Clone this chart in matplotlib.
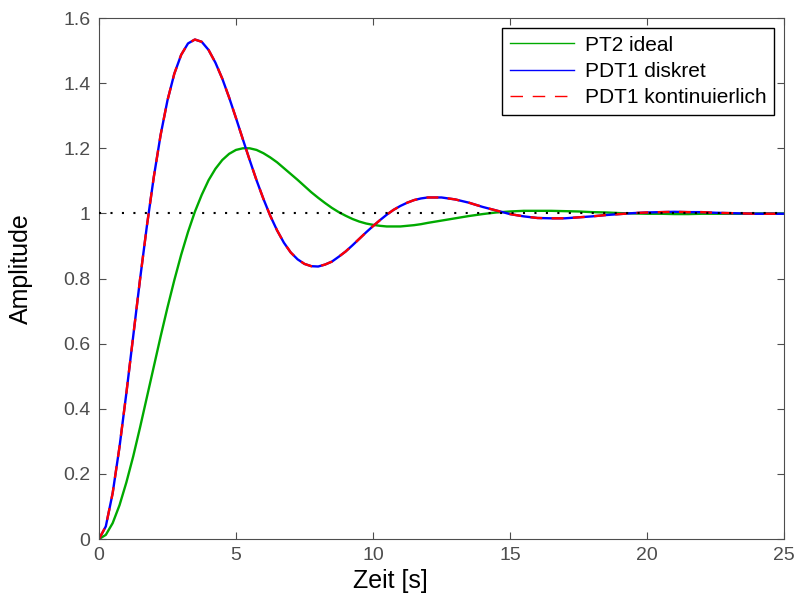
import matplotlib
matplotlib.use("Agg")
import matplotlib.pyplot as plt

plt.rcParams['font.family'] = ['Liberation Sans', 'DejaVu Sans']

# time base [s]: fine steps during the transient, coarser in the tail
t = [0.0, 0.25, 0.5, 0.75, 1.0, 1.25, 1.5, 1.75, 2.0, 2.25, 2.5, 2.75,
     3.0, 3.25, 3.5, 3.75, 4.0, 4.25, 4.5, 4.75, 5.0, 5.25, 5.5, 5.75,
     6.0, 6.25, 6.5, 6.75, 7.0, 7.25, 7.5, 7.75, 8.0, 8.25, 8.5, 8.75,
     9.0, 9.25, 9.5, 9.75, 10.0, 10.25, 10.5, 10.75, 11.0, 11.25, 11.5, 11.75,
     12.0, 12.5, 13.0, 13.5, 14.0, 14.5, 15.0, 15.5, 16.0, 16.5, 17.0, 17.5,
     18.0, 18.5, 19.0, 19.5, 20.0, 20.5, 21.0, 21.5, 22.0, 22.5, 23.0, 23.5,
     24.0, 24.5, 25.0]

# step response of the ideal PT2 element
pt2_ideal = [0.000, 0.013, 0.049, 0.104, 0.174, 0.254, 0.343, 0.436, 0.529, 0.622, 0.711, 0.795,
             0.873, 0.943, 1.005, 1.057, 1.102, 1.137, 1.164, 1.183, 1.195, 1.200, 1.200, 1.195,
             1.185, 1.172, 1.157, 1.139, 1.121, 1.103, 1.084, 1.065, 1.048, 1.032, 1.017, 1.004,
             0.993, 0.983, 0.975, 0.969, 0.965, 0.962, 0.960, 0.960, 0.960, 0.962, 0.964, 0.967,
             0.971, 0.978, 0.985, 0.992, 0.998, 1.003, 1.006, 1.008, 1.008, 1.008, 1.007, 1.006,
             1.004, 1.003, 1.001, 1.000, 0.999, 0.999, 0.998, 0.998, 0.999, 0.999, 0.999, 0.999,
             1.000, 1.000, 1.000]

# step response with the PDT1 approximation (discrete and continuous coincide)
pdt1_diskret = [0.000, 0.039, 0.141, 0.283, 0.448, 0.623, 0.798, 0.962, 1.111, 1.241, 1.347, 1.429,
                1.487, 1.522, 1.534, 1.527, 1.502, 1.463, 1.414, 1.356, 1.293, 1.228, 1.164, 1.102,
                1.045, 0.993, 0.948, 0.910, 0.880, 0.859, 0.845, 0.838, 0.837, 0.843, 0.852, 0.867,
                0.883, 0.902, 0.922, 0.942, 0.961, 0.979, 0.996, 1.011, 1.023, 1.033, 1.041, 1.046,
                1.049, 1.049, 1.043, 1.033, 1.020, 1.009, 0.998, 0.991, 0.986, 0.985, 0.985, 0.988,
                0.991, 0.995, 0.998, 1.001, 1.003, 1.004, 1.005, 1.004, 1.004, 1.002, 1.001, 1.000,
                0.999, 0.999, 0.999]
pdt1_kontinuierlich = list(pdt1_diskret)

sollwert = 1.0
x_ticks = [0, 5, 10, 15, 20, 25]
y_ticks = [0, 0.2, 0.4, 0.6, 0.8, 1.0, 1.2, 1.4, 1.6]
y_tick_labels = ['0', '0.2', '0.4', '0.6', '0.8', '1', '1.2', '1.4', '1.6']

axis_gray = '#4d4d4d'

fig = plt.figure(figsize=(7.98, 6.01), dpi=100)
ax = fig.add_axes([0.124, 0.103, 0.8585, 0.867])

ax.plot(t, pt2_ideal, color='#00aa00', linewidth=1.7, label='PT2 ideal')
ax.plot(t, pdt1_diskret, color='#0000ff', linewidth=1.7, label='PDT1 diskret')
ax.plot(t, pdt1_kontinuierlich, color='#ff0000', linewidth=1.7,
        linestyle=(0, (5, 4)), label='PDT1 kontinuierlich')
ax.plot([t[0], t[-1]], [sollwert, sollwert], color='black', linewidth=1.5,
        linestyle=(0, (1, 4.5)), zorder=5)

ax.set_xlim(0, 25)
ax.set_ylim(0, 1.6)
ax.set_xticks(x_ticks)
ax.set_yticks(y_ticks)
ax.set_yticklabels(y_tick_labels)
ax.tick_params(direction='in', length=5, width=0.8, colors=axis_gray,
               labelsize=14, top=True, right=True, pad=6)
for side in ax.spines.values():
    side.set_color(axis_gray)
    side.set_linewidth(0.8)

ax.set_xlabel('Zeit [s]', fontsize=18, color='black')
ax.set_ylabel('Amplitude', fontsize=18, color='black')
ax.xaxis.set_label_coords(0.425, -0.058)
ax.yaxis.set_label_coords(-0.097, 0.52)

leg = ax.legend(loc='upper right', fontsize=15, frameon=True, fancybox=False,
                framealpha=1, edgecolor='black', handlelength=3.1,
                borderaxespad=0.5, borderpad=0.35, labelspacing=0.35,
                handletextpad=0.5)
leg.get_frame().set_linewidth(1.0)
for line in leg.get_lines():
    line.set_linewidth(1.0)
leg.get_lines()[2].set_dashes([9, 7])

fig.savefig('out.png', dpi=100)
